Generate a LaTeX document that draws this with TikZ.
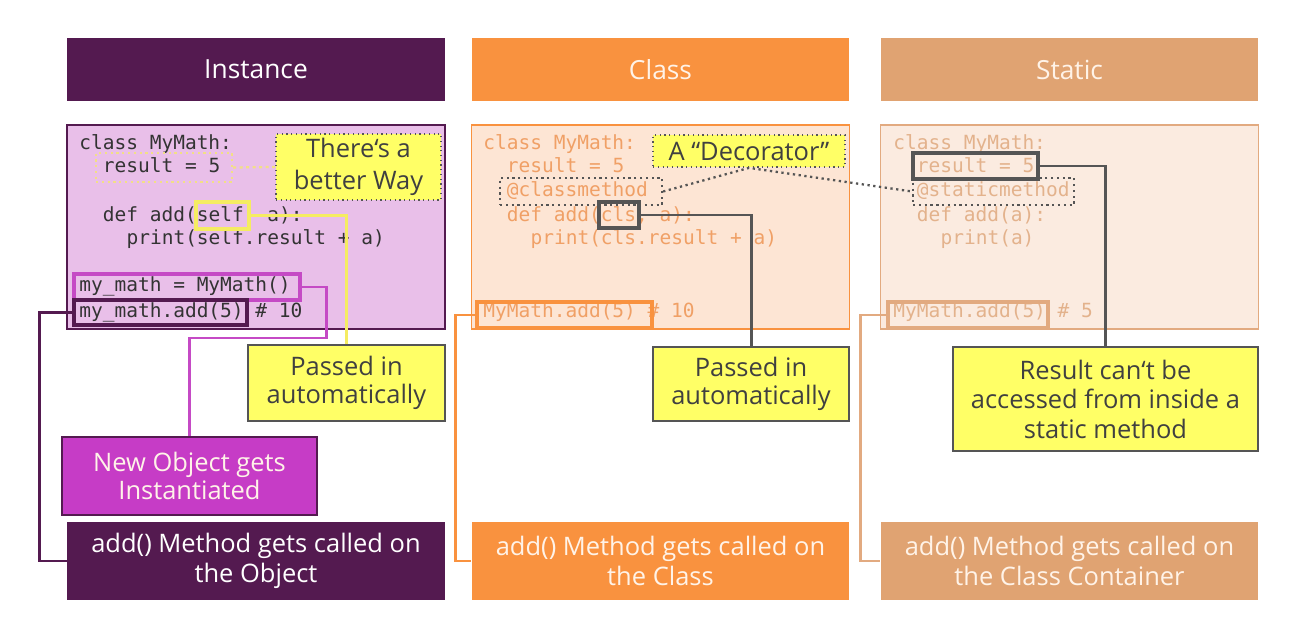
\documentclass[tikz,border=0pt]{standalone}
\usepackage{fontspec}
\setmainfont{Open Sans}
\newfontfamily\codefnt{DejaVu Sans Mono}

\definecolor{instdark}{HTML}{541A50}
\definecolor{instfill}{HTML}{E9BFE9}
\definecolor{objmag}{HTML}{C63CC6}
\definecolor{objline}{HTML}{C54AC5}
\definecolor{classor}{HTML}{F9923F}
\definecolor{classfill}{HTML}{FDE5D4}
\definecolor{classcode}{HTML}{F0A066}
\definecolor{stattan}{HTML}{E0A372}
\definecolor{statfill}{HTML}{FBEBE0}
\definecolor{statline}{HTML}{E2AA80}
\definecolor{statcode}{HTML}{E3B28C}
\definecolor{lighttext}{HTML}{FFF3E8}
\definecolor{noteyellow}{HTML}{FFFF66}
\definecolor{notegray}{HTML}{555555}
\definecolor{notetext}{HTML}{404040}
\definecolor{selfyellow}{HTML}{F5EC62}
\definecolor{paleyellow}{HTML}{F2DF86}
\definecolor{codetext}{HTML}{333333}

\begin{document}
\begin{tikzpicture}[x=0.02cm, y=-0.02cm,
  head/.style={minimum width=7.56cm, minimum height=1.26cm, inner sep=0pt, font=\fontsize{15}{18}\selectfont},
  codebox/.style={minimum width=7.56cm, minimum height=4.08cm, inner sep=0pt, line width=0.8pt},
  code/.style={anchor=west, inner sep=0pt, text height=8pt, text depth=2.5pt, font=\codefnt\fontsize{11.1}{13}\selectfont},
  hlbox/.style={minimum height=0.52cm, inner sep=0pt, line width=2pt},
  dotbox/.style={minimum height=0.54cm, inner sep=0pt, line width=1.3pt, dotted, draw=notegray},
  note/.style={fill=noteyellow, draw=notegray, line width=0.7pt, align=center, inner sep=0pt, text=notetext, font=\fontsize{14.5}{16}\selectfont},
  callbox/.style={minimum width=7.56cm, minimum height=1.56cm, align=center, inner sep=0pt, font=\fontsize{14.5}{17}\selectfont},
  link/.style={line width=1.7pt},
]
\useasboundingbox (0,0) rectangle (1302,634);

% headers
\node[head, fill=instdark, text=white] (hInst) at (256,69.5) {Instance};
\node[head, fill=classor, text=lighttext] (hClass) at (660.5,69.5) {Class};
\node[head, fill=stattan, text=lighttext] (hStat) at (1069.5,69.5) {Static};

% code boxes
\node[codebox, fill=instfill, draw=instdark] (cInst) at (256,227) {};
\node[codebox, fill=classfill, draw=classor] (cClass) at (660.5,227) {};
\node[codebox, fill=statfill, draw=statline] (cStat) at (1069.5,227) {};

% instance code
\begin{scope}[every node/.append style={text=codetext}]
  \node[code] (i1) at (79,145) {class MyMath:};
  \node[code] (i2) at (102.6,168) {result = 5};
  \node[code] (i3) at (102.6,217) {def add(self, a):};
  \node[code] (i4) at (126.2,240) {print(self.result + a)};
  \node[code] (i5) at (79,287) {my\_math = MyMath()};
  \node[code] (i6) at (79,313) {my\_math.add(5) \# 10};
\end{scope}

% class code
\begin{scope}[every node/.append style={text=classcode}]
  \node[code] (k1) at (483,145) {class MyMath:};
  \node[code] (k2) at (506.6,168) {result = 5};
  \node[code] (k3) at (506.6,192) {@classmethod};
  \node[code] (k4) at (506.6,217) {def add(cls, a):};
  \node[code] (k5) at (530.2,240) {print(cls.result + a)};
  \node[code] (k6) at (483,313) {MyMath.add(5) \# 10};
\end{scope}

% static code
\begin{scope}[every node/.append style={text=statcode}]
  \node[code] (s1) at (893,145) {class MyMath:};
  \node[code] (s2) at (916.6,168) {result = 5};
  \node[code] (s3) at (916.6,192) {@staticmethod};
  \node[code] (s4) at (916.6,217) {def add(a):};
  \node[code] (s5) at (940.2,240) {print(a)};
  \node[code] (s6) at (893,313) {MyMath.add(5) \# 5};
\end{scope}

% highlights
\node[hlbox, draw=paleyellow, line width=1.3pt, dotted, minimum width=2.72cm, minimum height=0.58cm] (iRes) at (164,167.5) {};
\node[hlbox, draw=selfyellow, minimum width=1.06cm, minimum height=0.54cm] (iSelf) at (222.5,215.5) {};
\node[hlbox, draw=objline, minimum width=4.52cm] (iNew) at (187,287) {};
\node[hlbox, draw=instdark, minimum width=3.46cm, minimum height=0.5cm] (iAdd) at (160.5,312.5) {};
\node[dotbox, minimum width=3.24cm] (kDec) at (581,191.5) {};
\node[hlbox, draw=notegray, minimum width=0.8cm] (kCls) at (619,215) {};
\node[hlbox, draw=classor, minimum width=3.5cm] (kAdd) at (564.5,315) {};
\node[hlbox, draw=notegray, minimum width=2.5cm] (sRes) at (975.5,166) {};
\node[dotbox, minimum width=3.22cm] (sDec) at (993.5,191.5) {};
\node[hlbox, draw=statline, minimum width=3.2cm] (sAdd) at (968,315) {};

% notes
\node[note, dotted, line width=1pt, minimum width=3.3cm, minimum height=1.32cm, font=\fontsize{14.5}{18}\selectfont] (better) at (358.5,167) {There‘s a\\better Way};
\node[note, minimum width=3.94cm, minimum height=1.52cm] (passA) at (346.5,383) {Passed in\\automatically};
\node[note, fill=objmag, draw=instdark, text=lighttext, minimum width=5.1cm, minimum height=1.56cm] (newObj) at (189.5,476) {New Object gets\\Instantiated};
\node[note, dotted, line width=1pt, minimum width=3.84cm, minimum height=0.64cm] (deco) at (749,151) {A “Decorator”};
\node[note, minimum width=3.92cm, minimum height=1.48cm] (passB) at (751,384) {Passed in\\automatically};
\node[note, minimum width=6.1cm, minimum height=2.08cm, font=\fontsize{14.5}{16.8}\selectfont] (resB) at (1105.5,399) {Result can‘t be\\accessed from inside a\\static method};

% calls
\node[callbox, fill=instdark, text=white] (callInst) at (256,561) {add() Method gets called on\\the Object};
\node[callbox, fill=classor, text=lighttext] (callClass) at (660.5,561) {add() Method gets called on\\the Class};
\node[callbox, fill=stattan, text=lighttext] (callStat) at (1069.5,561) {add() Method gets called on\\the Class Container};

% connectors
\draw[link, paleyellow, dotted, line width=1.3pt] (iRes.east) -- (better.west);
\draw[link, selfyellow] (iSelf.east) -| (passA.north);
\draw[link, objline] (iNew.east) -- ++(25,0) -- ++(0,51) -| (newObj.north);
\draw[link, instdark] (iAdd.west) -- ++(-33,0) |- (callInst.west);
\draw[line width=1.3pt, notegray, dotted] (kDec.east) -- (deco.south) -- (sDec.west);
\draw[link, notegray] (kCls.east) -| (passB.north);
\draw[link, classor] (kAdd.west) -- ++(-20,0) |- (callClass.west);
\draw[link, notegray] (sRes.east) -| (resB.north);
\draw[link, statline] (sAdd.west) -- ++(-26,0) |- (callStat.west);

\end{tikzpicture}
\end{document}
